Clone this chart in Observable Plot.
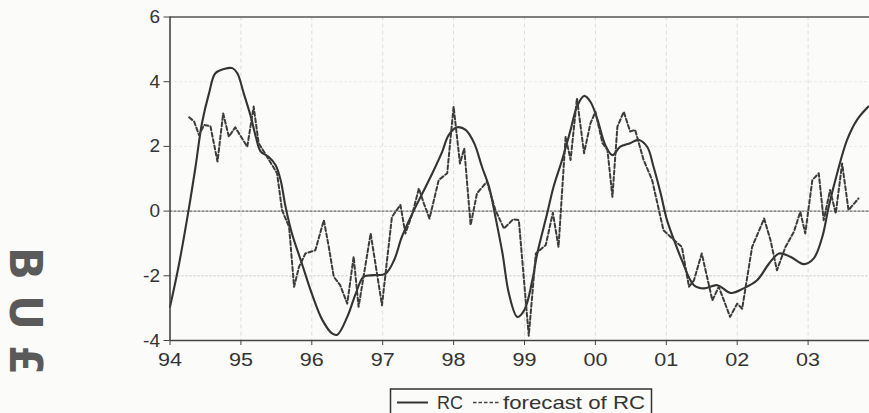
<!DOCTYPE html>
<html><head><meta charset="utf-8">
<script src="https://cdn.jsdelivr.net/npm/d3@7"></script>
<script src="https://cdn.jsdelivr.net/npm/@observablehq/plot@0.6"></script>
<style>
html,body{margin:0;padding:0;background:#fbfbfa;}
#wrap{position:relative;width:869px;height:413px;overflow:hidden;background:#fbfbfa;}
#legend{position:absolute;left:0;top:0;}
</style></head>
<body><div id="wrap"><div id="chart"></div>
<svg id="legend" width="869" height="413" style="pointer-events:none">
  <rect x="390.5" y="389" width="261" height="40" fill="none" stroke="#333" stroke-width="1.5"/>
  <line x1="397" x2="428" y1="402.5" y2="402.5" stroke="#333" stroke-width="2"/>
  <text x="437" y="409" font-family="Liberation Sans, Arial, sans-serif" font-size="19" fill="#333" textLength="26" lengthAdjust="spacingAndGlyphs">RC</text>
  <line x1="473" x2="500" y1="402.5" y2="402.5" stroke="#444" stroke-width="1.6" stroke-dasharray="3.5,2"/>
  <text x="503" y="409" font-family="Liberation Sans, Arial, sans-serif" font-size="19" fill="#333" textLength="142" lengthAdjust="spacingAndGlyphs">forecast of RC</text>
  <text transform="translate(10,247) rotate(90)" font-family="DejaVu Sans, sans-serif" font-weight="bold" font-size="44" fill="#5a5a5a" textLength="128" lengthAdjust="spacingAndGlyphs">B U £</text>
</svg>
</div>
<script>
// RC (solid)
const rcYear = [1994.0,1994.12,1994.26,1994.36,1994.45,1994.55,1994.64,1994.76,1994.88,1994.95,1995.04,1995.14,1995.21,1995.28,1995.39,1995.49,1995.56,1995.63,1995.72,1995.86,1996.0,1996.15,1996.29,1996.36,1996.5,1996.62,1996.73,1996.87,1997.04,1997.16,1997.27,1997.42,1997.56,1997.70,1997.84,1997.93,1998.05,1998.17,1998.29,1998.40,1998.50,1998.59,1998.69,1998.78,1998.90,1999.0,1999.11,1999.18,1999.32,1999.41,1999.53,1999.65,1999.74,1999.84,1999.93,2000.03,2000.14,2000.24,2000.35,2000.49,2000.61,2000.73,2000.82,2000.92,2001.01,2001.11,2001.22,2001.39,2001.53,2001.72,2001.91,2002.09,2002.28,2002.45,2002.59,2002.75,2002.94,2003.08,2003.20,2003.29,2003.41,2003.55,2003.69,2003.85];
const rcValue = [-2.96,-1.72,0.0,1.37,2.71,3.64,4.26,4.39,4.42,4.26,3.64,2.92,2.30,1.84,1.68,1.42,0.96,0.13,-0.69,-1.62,-2.55,-3.37,-3.79,-3.82,-3.27,-2.55,-2.03,-1.98,-1.93,-1.52,-0.80,-0.07,0.55,1.17,1.84,2.35,2.59,2.51,2.10,1.37,0.75,-0.18,-1.31,-2.55,-3.27,-3.05,-2.14,-1.31,-0.07,0.75,1.58,2.51,3.23,3.56,3.38,2.82,2.04,1.73,1.99,2.10,2.20,1.99,1.37,0.55,-0.28,-0.90,-1.52,-2.29,-2.39,-2.29,-2.53,-2.39,-2.14,-1.62,-1.31,-1.41,-1.64,-1.46,-0.80,0.13,1.17,2.20,2.82,3.23];
// forecast of RC (dashed)
const fcYear = [1994.27,1994.34,1994.41,1994.48,1994.57,1994.67,1994.75,1994.83,1994.92,1995.09,1995.18,1995.25,1995.35,1995.51,1995.58,1995.68,1995.75,1995.82,1995.91,1996.05,1996.17,1996.24,1996.31,1996.40,1996.50,1996.59,1996.66,1996.83,1996.99,1997.13,1997.25,1997.32,1997.42,1997.51,1997.58,1997.66,1997.79,1997.91,1998.00,1998.09,1998.15,1998.24,1998.33,1998.47,1998.59,1998.71,1998.84,1998.92,1999.06,1999.16,1999.30,1999.40,1999.48,1999.58,1999.65,1999.74,1999.84,1999.93,2000.00,2000.10,2000.17,2000.24,2000.31,2000.40,2000.49,2000.56,2000.68,2000.80,2000.96,2001.11,2001.22,2001.32,2001.39,2001.50,2001.65,2001.74,2001.90,2002.00,2002.07,2002.21,2002.38,2002.47,2002.56,2002.68,2002.80,2002.89,2002.96,2003.06,2003.15,2003.22,2003.31,2003.39,2003.48,2003.57,2003.71];
const fcValue = [2.90,2.77,2.35,2.66,2.63,1.53,3.02,2.30,2.59,1.99,3.23,2.10,1.75,1.17,0.03,-0.49,-2.34,-1.72,-1.31,-1.21,-0.28,-1.11,-2.03,-2.29,-2.86,-1.41,-2.96,-0.69,-2.91,-0.18,0.19,-0.69,-0.07,0.70,0.24,-0.23,0.96,1.17,3.23,1.47,1.94,-0.43,0.55,0.91,0.03,-0.54,-0.25,-0.28,-3.85,-1.31,-1.05,-0.05,-1.11,2.30,1.58,3.49,1.79,2.71,3.07,2.10,1.89,0.44,2.61,3.07,2.46,2.51,1.58,0.96,-0.59,-0.90,-1.11,-2.34,-2.14,-1.31,-2.76,-2.34,-3.27,-2.86,-3.02,-1.11,-0.23,-0.90,-1.83,-1.11,-0.64,-0.02,-0.69,0.96,1.17,-0.28,0.65,-0.07,1.47,0.03,0.39];
const yearTicks = [1994,1995,1996,1997,1998,1999,2000,2001,2002,2003];
const yearLabels = ["94","95","96","97","98","99","00","01","02","03"];
const valueTicks = [-4,-2,0,2,4,6];
const valueLabels = ["-4","-2","0","2","4","6"];

const rc = rcYear.map((x,i)=>({x, y: rcValue[i]}));
const fc = fcYear.map((x,i)=>({x, y: fcValue[i]}));

const chart = Plot.plot({
  width: 869, height: 375,
  marginLeft: 169.5, marginRight: 0, marginTop: 16.5, marginBottom: 35,
  style: {background: "#fbfbfa", fontFamily: "Liberation Sans, Arial, sans-serif", fontSize: "19px", color: "#333"},
  x: {domain: [1994, 1994 + (869-169.5)/70.9]},
  y: {domain: [-4, 6]},
  marks: [
    Plot.ruleX(yearTicks.slice(1), {stroke: "#dcdcdc", strokeWidth: 1, strokeDasharray: "4,3"}),
    Plot.ruleY([2,4], {stroke: "#e2e2e2", strokeWidth: 1, strokeDasharray: "2,3"}),
    Plot.ruleY([-2], {stroke: "#c4c4c4", strokeWidth: 1, strokeDasharray: "2,2"}),
    Plot.ruleY([0], {stroke: "#666", strokeWidth: 1.3, strokeDasharray: "3,1"}),
    Plot.line(rc, {x: "x", y: "y", curve: "catmull-rom", stroke: "#333", strokeWidth: 2.1}),
    Plot.line(fc, {x: "x", y: "y", stroke: "#3c3c3c", strokeWidth: 2, strokeDasharray: "4,2.5"}),
    Plot.ruleY([6], {stroke: "#555", strokeWidth: 1.6}),
    Plot.ruleY([-4], {stroke: "#444", strokeWidth: 1.6}),
    Plot.ruleX([1994], {stroke: "#444", strokeWidth: 1.6}),
    Plot.axisX({ticks: yearTicks, tickFormat: (d) => yearLabels[yearTicks.indexOf(d)], tickSize: 5, tickPadding: 7, label: null, stroke: "#444", fill: "#333"}),
    Plot.axisY({ticks: valueTicks, tickFormat: (d) => valueLabels[valueTicks.indexOf(d)], tickSize: 6, tickPadding: 4, label: null, stroke: "#444", fill: "#333"})
  ]
});
d3.select(chart).selectAll('[aria-label="x-axis tick label"] text')
  .attr("textLength", 24).attr("lengthAdjust", "spacingAndGlyphs");
document.getElementById("chart").appendChild(chart);
</script>
</body></html>
